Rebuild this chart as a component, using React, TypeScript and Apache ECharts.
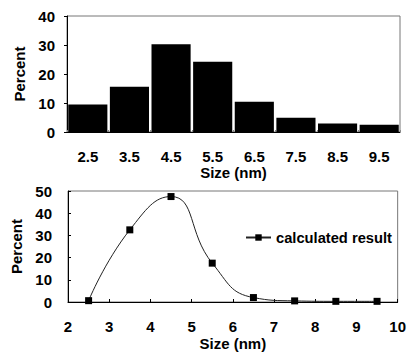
import React, { useEffect, useRef } from "react";
import * as echarts from "echarts";

const sizeCategories = ["2.5", "3.5", "4.5", "5.5", "6.5", "7.5", "8.5", "9.5"];
const histogramPercent = [9.5, 15.6, 30.3, 24.2, 10.4, 4.9, 2.9, 2.5];
const calcSize = [2.5, 3.5, 4.5, 5.5, 6.5, 7.5, 8.5, 9.5];
const calcPercent = [0.6, 32.5, 47.5, 17.5, 2.0, 0.5, 0.3, 0.3];

const FONT = "'Liberation Sans', Arial, sans-serif";
const labelStyle = { color: "#000", fontFamily: FONT, fontWeight: "bold" as const, fontSize: 15 };

export default function App() {
  const ref = useRef<HTMLDivElement>(null);
  useEffect(() => {
    if (!ref.current) return;
    const chart = echarts.init(ref.current, null, { renderer: "svg" });
    chart.setOption({
      animation: false,
      backgroundColor: "#fff",
      grid: [
        { left: 67, top: 16, width: 333, height: 116, show: true, borderColor: "#777", borderWidth: 1, backgroundColor: "transparent" },
        { left: 68, top: 191, width: 333, height: 114, show: true, borderColor: "#777", borderWidth: 1, backgroundColor: "transparent" },
      ],
      legend: {
        left: 240,
        top: 225,
        itemWidth: 25,
        itemHeight: 8,
        itemGap: 4,
        textStyle: { ...labelStyle, fontSize: 14.7 },
        data: ["calculated result"],
      },
      xAxis: [
        {
          gridIndex: 0,
          type: "category",
          data: sizeCategories,
          name: "Size (nm)",
          nameLocation: "middle",
          nameGap: 31,
          nameTextStyle: { ...labelStyle },
          axisLine: { lineStyle: { color: "#000", width: 1 } },
          axisTick: { show: true, inside: true, length: 2, lineStyle: { color: "#888" } },
          axisLabel: { ...labelStyle, margin: 17 },
          splitLine: { show: false },
        },
        {
          gridIndex: 1,
          type: "value",
          min: 2,
          max: 10,
          interval: 1,
          name: "Size (nm)",
          nameLocation: "middle",
          nameGap: 34,
          nameTextStyle: { ...labelStyle },
          axisLine: { onZero: false, lineStyle: { color: "#000", width: 1 } },
          axisTick: { show: true, inside: true, length: 3, lineStyle: { color: "#000" } },
          axisLabel: { ...labelStyle, margin: 17 },
          splitLine: { show: false },
        },
      ],
      yAxis: [
        {
          gridIndex: 0,
          type: "value",
          min: 0,
          max: 40,
          interval: 10,
          name: "Percent",
          nameLocation: "middle",
          nameGap: 40,
          nameRotate: 90,
          nameTextStyle: { ...labelStyle },
          axisLine: { show: true, lineStyle: { color: "#000", width: 1 } },
          axisTick: { show: true, length: 3, lineStyle: { color: "#000" } },
          axisLabel: { ...labelStyle, margin: 12 },
          splitLine: { show: false },
        },
        {
          gridIndex: 1,
          type: "value",
          min: 0,
          max: 50,
          interval: 10,
          name: "Percent",
          nameLocation: "middle",
          nameGap: 39,
          nameRotate: 90,
          nameTextStyle: { ...labelStyle },
          axisLine: { show: true, lineStyle: { color: "#000", width: 1 } },
          axisTick: { show: true, inside: true, length: 3, lineStyle: { color: "#000" } },
          axisLabel: { ...labelStyle, margin: 16 },
          splitLine: { show: false },
        },
      ],
      series: [
        {
          type: "bar",
          xAxisIndex: 0,
          yAxisIndex: 0,
          data: histogramPercent,
          barCategoryGap: "6%",
          itemStyle: { color: "#000" },
        },
        {
          name: "calculated result",
          type: "line",
          xAxisIndex: 1,
          yAxisIndex: 1,
          data: calcSize.map((x, i) => [x, calcPercent[i]]),
          smooth: 0.5,
          symbol: "rect",
          symbolSize: 7,
          showAllSymbol: true,
          lineStyle: { color: "#222", width: 1 },
          itemStyle: { color: "#000" },
        },
      ],
    });
    return () => chart.dispose();
  }, []);
  return <div ref={ref} style={{ width: 409, height: 352, position: "absolute", left: 0, top: 0 }} />;
}
